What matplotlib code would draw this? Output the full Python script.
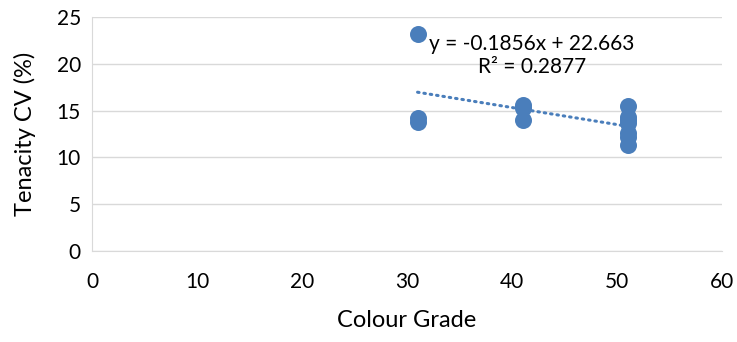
import numpy as np
import matplotlib.pyplot as plt

# colour grade vs tenacity CV
colour_grade = [31, 31, 31, 41, 41, 41, 51, 51, 51, 51, 51, 51, 51]
tenacity_cv = [23.2, 14.2, 13.8, 15.6, 15.3, 14.0, 15.5, 14.3, 14.0, 13.7, 12.6, 12.2, 11.3]
trend_text = 'y = -0.1856x + 22.663\nR² = 0.2877'

plt.rcParams['font.family'] = ['Lato', 'DejaVu Sans']

fig = plt.figure(figsize=(7.37, 3.42), dpi=100)
ax = fig.add_axes([0.1248, 0.266, 0.855, 0.684])

blue = '#4a7ebb'
ax.scatter(colour_grade, tenacity_cv, s=150, color=blue, zorder=3, linewidths=0)

# linear trendline
slope, intercept = np.polyfit(colour_grade, tenacity_cv, 1)
tx = np.array([min(colour_grade), max(colour_grade)])
ax.plot(tx, slope * tx + intercept, color=blue, lw=2.2, linestyle=(0, (0.5, 1.6)),
        dash_capstyle='round', zorder=4)
ax.text(41.9, 20.9, trend_text, ha='center', va='center', multialignment='center',
        fontsize=15, linespacing=1.15, zorder=5)

ax.set_xlim(0, 60)
ax.set_ylim(0, 25)
ax.set_xticks(range(0, 61, 10))
ax.set_yticks(range(0, 26, 5))
ax.yaxis.grid(True, color='#d9d9d9', lw=1)
ax.set_axisbelow(True)
for side in ['top', 'right']:
    ax.spines[side].set_visible(False)
for side in ['left', 'bottom']:
    ax.spines[side].set_color('#d9d9d9')
ax.tick_params(length=0, labelsize=15)
ax.tick_params(axis='x', pad=15)
ax.tick_params(axis='y', pad=8)
ax.set_xlabel('Colour Grade', fontsize=17, labelpad=13)
ax.set_ylabel('Tenacity CV (%)', fontsize=17, labelpad=15)

plt.savefig('out.png', dpi=100)
